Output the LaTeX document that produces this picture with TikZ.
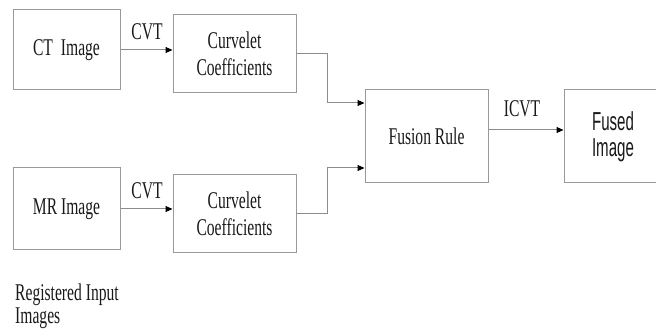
\documentclass[tikz,border=0pt]{standalone}
\usepackage{fontspec}
\setmainfont{Liberation Serif}
\newfontfamily\narrowserif[FakeStretch=0.65]{Liberation Serif}
\newfontfamily\narrowsans[FakeStretch=0.58]{Liberation Sans}
\usetikzlibrary{arrows.meta}
\begin{document}
\begin{tikzpicture}[x=1pt,y=-1pt,
  box/.style={draw=black!40, line width=1pt, rectangle, inner sep=0pt, align=center,
    text=black!90, font=\narrowserif\fontsize{24}{27}\selectfont},
  conn/.style={draw=black!45, line width=1pt},
  arr/.style={conn, -{Triangle[length=7pt,width=6pt,fill=black,color=black]}},
  lbl/.style={text=black!90, font=\narrowserif\fontsize{24}{27}\selectfont, inner sep=0pt, anchor=base}]
\useasboundingbox (0,0) rectangle (656,331);
\node[box, minimum width=107pt, minimum height=80pt] (ct) at (66.5,50) {CT\, Image};
\node[box, minimum width=123pt, minimum height=78pt] (ctc) at (234.5,54) {Curvelet\\Coefficients};
\node[box, minimum width=107pt, minimum height=82pt] (mr) at (66.5,209) {MR Image};
\node[box, minimum width=123pt, minimum height=78pt] (mrc) at (234.5,214) {Curvelet\\Coefficients};
\node[box, minimum width=123pt, minimum height=93pt] (fus) at (426.5,136.5) {Fusion Rule};
\node[box, minimum width=98pt, minimum height=93pt, font=\narrowsans\fontsize{26}{26}\selectfont] (fused) at (613,136.5) {Fused\\Image};
\coordinate (j1) at (327,103);
\coordinate (j2) at (327,168);
\coordinate (i1) at (0,130);
\draw[arr] (ct.east) -- (ct.east -| ctc.west);
\draw[arr] (mr.east) -- (mr.east -| mrc.west);
\draw[arr] (ctc.east) -| (j1) -- (j1 -| fus.west);
\draw[arr] (mrc.east) -| (j2) -- (j2 -| fus.west);
\draw[arr] (fus.east |- i1) -- (fused.west |- i1);
\node[lbl] (cvt1) at (147,40) {CVT};
\node[lbl] (cvt2) at (147,199) {CVT};
\node[lbl] (icvt) at (522,117) {ICVT};
\node[lbl, anchor=north west, align=left, font=\narrowserif\fontsize{24}{23}\selectfont] (reg) at (15,284) {Registered Input\\Images};
\end{tikzpicture}
\end{document}
